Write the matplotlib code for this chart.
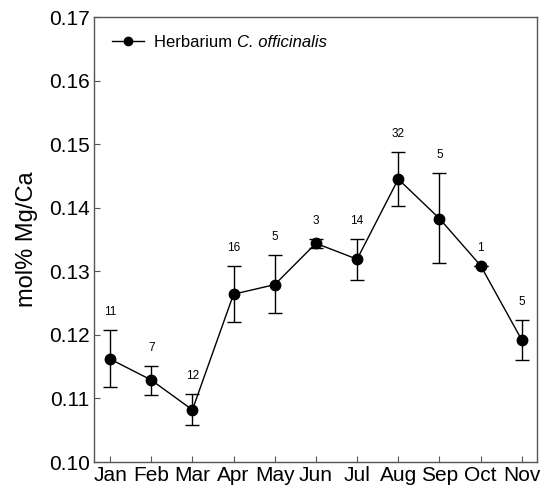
import matplotlib
matplotlib.use("Agg")
import matplotlib.pyplot as plt
from matplotlib.lines import Line2D
import numpy as np

plt.rcParams["font.family"] = ["Liberation Sans", "DejaVu Sans"]

MONTHS = ["Jan", "Feb", "Mar", "Apr", "May", "Jun", "Jul", "Aug", "Sep", "Oct", "Nov"]
MEAN = [0.1162, 0.1129, 0.1082, 0.1264, 0.1279, 0.1344, 0.1319, 0.1445, 0.1383, 0.1309, 0.1192]
UPPER = [0.1207, 0.1151, 0.1107, 0.1308, 0.1325, 0.1350, 0.1351, 0.1488, 0.1454, 0.1309, 0.1223]
LOWER = [0.1118, 0.1106, 0.1058, 0.1220, 0.1234, 0.1337, 0.1287, 0.1403, 0.1313, 0.1309, 0.1161]
N = [11, 7, 12, 16, 5, 3, 14, 32, 5, 1, 5]

x = np.arange(len(MONTHS))
mean = np.array(MEAN)
yerr = [mean - np.array(LOWER), np.array(UPPER) - mean]

fig = plt.figure(figsize=(5.44, 4.94), dpi=100)
ax = fig.add_axes([94 / 544, 32 / 494, 443 / 544, 445 / 494])

ax.errorbar(x, mean, yerr=yerr, color="black", lw=1.0, elinewidth=1.0,
            capsize=5, capthick=1.0, marker="o", ms=7.5)
for xi, up, n in zip(x, UPPER, N):
    ax.annotate(str(n), (xi, up), xytext=(0, 13), textcoords="offset points",
                ha="center", va="center", fontsize=8.5)

ax.set_xlim(-0.39, 10.37)
ax.set_ylim(0.10, 0.17)
ax.set_xticks(x)
ax.set_xticklabels(MONTHS, fontsize=15)
yt = np.arange(0.10, 0.1701, 0.01)
ax.set_yticks(yt)
ax.set_yticklabels([f"{v:.2f}" for v in yt], fontsize=15)
ax.tick_params(direction="in", length=4, width=0.8, color="#555555", pad=3)
for spine in ax.spines.values():
    spine.set_color("#555555")
    spine.set_linewidth(1.0)
ax.set_ylabel("mol% Mg/Ca", fontsize=17, labelpad=8)

handle = Line2D([], [], color="black", lw=1.0, marker="o", ms=6)
leg = ax.legend([handle], ["Herbarium "], loc="upper left", frameon=False,
                fontsize=12, handlelength=1.9, handletextpad=0.6, borderaxespad=0.7)
t = leg.get_texts()[0]
fig.canvas.draw()
bb = t.get_window_extent()
x0, y0 = fig.transFigure.inverted().transform((bb.x1, bb.y0))
fig.text(x0, y0 + 3 / 494, "C. officinalis", fontsize=12, style="italic", va="baseline")

fig.savefig("out.png", dpi=100, facecolor="white")
